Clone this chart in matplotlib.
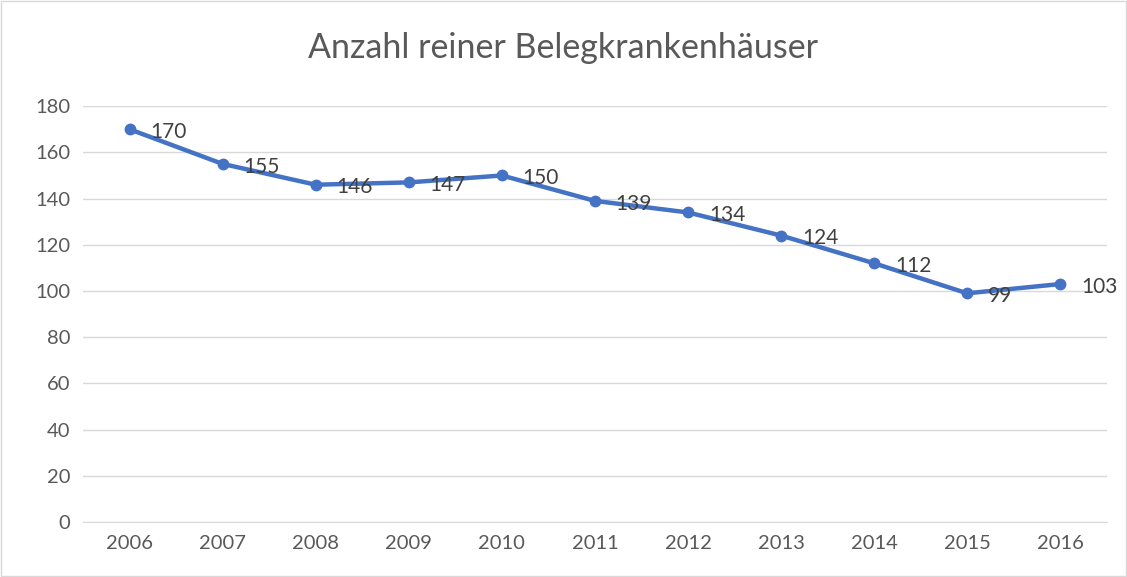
import matplotlib.pyplot as plt
from matplotlib.patches import Rectangle

years = ['2006', '2007', '2008', '2009', '2010', '2011', '2012', '2013', '2014', '2015', '2016']
counts = [170, 155, 146, 147, 150, 139, 134, 124, 112, 99, 103]

plt.rcParams['font.family'] = ['Lato', 'DejaVu Sans']
text_color = '#595959'

fig = plt.figure(figsize=(11.27, 5.77), dpi=100)
ax = fig.add_axes([0.0737, 0.0953, 0.9083, 0.7207])

x = list(range(len(years)))
ax.plot(x, counts, color='#4472C4', linewidth=3.2, marker='o', markersize=7.5, zorder=3)
for xi, v in zip(x, counts):
    ax.annotate(str(v), (xi, v), xytext=(15, -2), textcoords='offset points',
                ha='left', va='center', fontsize=15, color='#404040', zorder=4)

ax.set_xlim(-0.5, len(years) - 0.5)
ax.set_ylim(0, 180)
ax.set_yticks(range(0, 181, 20))
ax.set_xticks(x)
ax.set_xticklabels(years)
ax.tick_params(axis='both', length=0, labelsize=14.5, colors=text_color, pad=9)
ax.yaxis.grid(True, color='#D9D9D9', linewidth=1)
ax.set_axisbelow(True)
for side in ['top', 'right', 'left']:
    ax.spines[side].set_visible(False)
ax.spines['bottom'].set_color('#D9D9D9')

fig.suptitle('Anzahl reiner Belegkrankenhäuser', fontsize=24.5, color=text_color, y=0.945)

fig.patches.append(Rectangle((0.001, 0.001), 0.998, 0.998, transform=fig.transFigure,
                             fill=False, edgecolor='#D9D9D9', linewidth=1))

fig.savefig('out.png', dpi=100)
